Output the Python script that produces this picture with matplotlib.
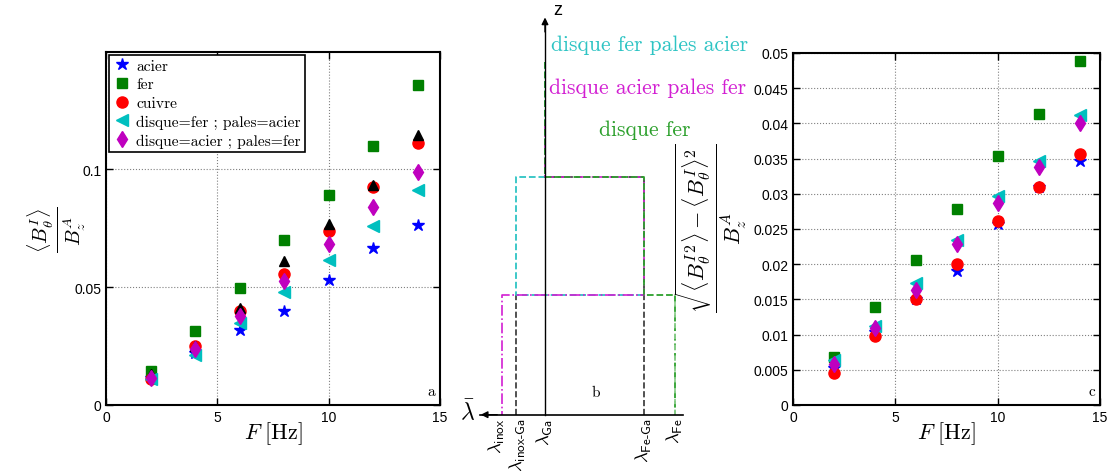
import numpy as np
import matplotlib.pyplot as plt

plt.rcParams['mathtext.fontset'] = 'cm'
plt.rcParams['font.family'] = ['Liberation Sans', 'DejaVu Sans']

F = [2, 4, 6, 8, 10, 12, 14]

# panel a : <B_theta^I> / B_z^A
a_acier = [0.0116, 0.0222, 0.0318, 0.0398, 0.0530, 0.0667, 0.0761]
a_fer = [0.0144, 0.0312, 0.0494, 0.0698, 0.0890, 0.1097, 0.1355]
a_cuivre = [0.0112, 0.0249, 0.0398, 0.0556, 0.0736, 0.0924, 0.1109]
a_noir = [0.0130, 0.0250, 0.0412, 0.0610, 0.0768, 0.0932, 0.1144]
a_fer_acier = [0.0112, 0.0212, 0.0349, 0.0479, 0.0613, 0.0758, 0.0911]
a_acier_fer = [0.0116, 0.0239, 0.0377, 0.0525, 0.0681, 0.0839, 0.0989]

# panel c : fluctuations
c_acier = [0.0052, 0.0103, 0.0150, 0.0191, 0.0257, 0.0309, 0.0347]
c_fer = [0.0068, 0.0139, 0.0206, 0.0278, 0.0353, 0.0414, 0.0488]
c_cuivre = [0.0046, 0.0098, 0.0150, 0.0200, 0.0261, 0.0309, 0.0356]
c_fer_acier = [0.0064, 0.0112, 0.0173, 0.0234, 0.0297, 0.0346, 0.0412]
c_acier_fer = [0.0058, 0.0109, 0.0164, 0.0229, 0.0287, 0.0338, 0.0400]

labels = ['acier', 'fer', 'cuivre', 'disque=fer ; pales=acier', 'disque=acier ; pales=fer']

# panel b : schematic lambda(z) profiles
lam_names = ['inox', 'inox-Ga', 'Ga', 'Fe-Ga', 'Fe']
lam_pos = [62, 76, 105, 204, 235]
z_low, z_high, z_top = 120, 238, 353

fig = plt.figure(figsize=(11.15, 4.77), dpi=100)
W, H = 1115., 477.


def style(ax):
    ax.set_xlim(0, 15)
    ax.set_xticks([0, 5, 10, 15])
    ax.tick_params(direction='in', top=True, right=True, length=5, labelsize=10, width=1)
    ax.grid(True, linestyle=':', color='gray', linewidth=0.8)
    for s in ax.spines.values():
        s.set_linewidth(1.5)
    ax.set_xlabel(r'$F\ [\mathrm{Hz}]$', fontsize=16)
    ax.xaxis.set_label_coords(0.5, -0.04)


ax1 = fig.add_axes([106 / W, 71 / H, 334 / W, 353 / H])
ax1.plot(F, a_acier, 'b*', ms=9, label=labels[0])
ax1.plot(F, a_fer, 's', color=(0, 0.5, 0), ms=7, label=labels[1])
ax1.plot(F, a_cuivre, 'ro', ms=8, label=labels[2])
ax1.plot(F, a_noir, 'k^', ms=7)
ax1.plot(F, a_fer_acier, '<', color=(0, 0.75, 0.75), ms=9, label=labels[3])
ax1.plot(F, a_acier_fer, 'd', color=(0.75, 0, 0.75), ms=8, label=labels[4])
style(ax1)
ax1.set_ylim(0, 0.1496)
ax1.set_yticks([0, 0.05, 0.1])
ax1.set_yticklabels(['0', '0.05', '0.1'])
fig.text(57 / W, 1 - 230 / H, r'$\frac{\langle B_\theta^I\rangle}{B_z^A}$', fontsize=21,
         rotation=90, ha='center', va='center')
leg = ax1.legend(loc='upper left', fancybox=False, edgecolor='black', framealpha=1,
                 prop={'family': 'cmr10', 'size': 11.2}, labelspacing=0.3, borderpad=0.25,
                 handletextpad=0.3, borderaxespad=0.2, handlelength=1.2)
leg.get_frame().set_linewidth(1.2)
ax1.text(0.985, 0.02, 'a', transform=ax1.transAxes, ha='right', va='bottom',
         family='cmr10', fontsize=11)

ax3 = fig.add_axes([793 / W, 71 / H, 307 / W, 352 / H])
ax3.plot(F, c_acier, 'b*', ms=9)
ax3.plot(F, c_fer, 's', color=(0, 0.5, 0), ms=7)
ax3.plot(F, c_cuivre, 'ro', ms=8)
ax3.plot(F, c_fer_acier, '<', color=(0, 0.75, 0.75), ms=9)
ax3.plot(F, c_acier_fer, 'd', color=(0.75, 0, 0.75), ms=8)
style(ax3)
ax3.set_ylim(0, 0.05)
ax3.set_yticks(np.arange(0, 0.0501, 0.005))
ax3.set_yticklabels(['0', '0.005', '0.01', '0.015', '0.02', '0.025', '0.03',
                     '0.035', '0.04', '0.045', '0.05'])
fig.text(711 / W, 1 - 228 / H,
         r'$\frac{\sqrt{\langle {B_\theta^I}^2\rangle - \langle B_\theta^I\rangle^2}}{B_z^A}$',
         fontsize=23, rotation=90, ha='center', va='center')
ax3.text(0.985, 0.02, 'c', transform=ax3.transAxes, ha='right', va='bottom',
         family='cmr10', fontsize=11)

# middle schematic
ax2 = fig.add_axes([440 / W, 0, 320 / W, 1])
ax2.set_xlim(0, 320)
ax2.set_ylim(-61.3, 415.7)
ax2.axis('off')
p = dict(zip(lam_names, lam_pos))
cyan, mag, green = '#2ec4c4', '#d21fd2', '#2ca02c'

ax2.plot([p['inox-Ga'], p['inox-Ga']], [0, z_low], '--', color='#333333', lw=1.2)
ax2.plot([p['Fe-Ga'], p['Fe-Ga'], p['Ga']], [0, z_high, z_high], '--', color='#333333', lw=1.2)
ax2.plot([p['Ga'], p['Ga'], p['inox-Ga'], p['inox-Ga'], p['Fe-Ga']],
         [z_top, z_high, z_high, z_low, z_low], '--', color=cyan, lw=1.3)
ax2.plot([p['Ga'], p['Ga'], p['Fe-Ga'], p['Fe-Ga'], p['inox'], p['inox']],
         [z_top - 60, z_high, z_high, z_low, z_low, 0], '-.', color=mag, lw=1.2)
ax2.plot([p['Ga'], p['Ga'], p['Fe-Ga'], p['Fe-Ga'], p['Fe'], p['Fe']],
         [z_top, z_high, z_high, z_low, z_low, 0], '--', color=green, lw=1.3)
ax2.plot([p['Fe'], p['Fe']], [0, z_low], '--', color='#8fcf8f', lw=1.3, dashes=(3, 3))

# axes arrows
ax2.plot([p['Ga'], p['Ga']], [0, 395], 'k-', lw=1)
ax2.annotate('', xy=(p['Ga'], 400), xytext=(p['Ga'], 380),
             arrowprops=dict(arrowstyle='-|>', color='k', lw=1, mutation_scale=10))
ax2.plot([40, 243], [0, 0], 'k-', lw=1.2)
ax2.annotate('', xy=(38, 0), xytext=(60, 0),
             arrowprops=dict(arrowstyle='-|>', color='k', lw=1, mutation_scale=10))
ax2.text(p['Ga'] + 13, 405, 'z', fontsize=13, ha='center', va='center')
ax2.text(28, 3, r'$\bar{\lambda}$', fontsize=17, ha='center', va='center')
for n, x in zip(lam_names, lam_pos):
    sub = r'\mathsf{' + n.replace('-', r'}\text{-}\mathsf{') + '}'
    dx = {'inox': -5, 'inox-Ga': 2}.get(n, 0)
    ax2.text(x + dx, -3, r'$\lambda_{%s}$' % sub, fontsize=13.5, rotation=90,
             ha='center', va='top')

ax2.text(210, 370, 'disque fer pales acier', color=cyan, family='cmr10', fontsize=15.5,
         ha='center', va='center')
ax2.text(208, 327, 'disque acier pales fer', color=mag, family='cmr10', fontsize=15.5,
         ha='center', va='center')
ax2.text(205, 285, 'disque fer', color=green, family='cmr10', fontsize=15.5,
         ha='center', va='center')
ax2.text(156, 23, 'b', family='cmr10', fontsize=11, ha='center', va='center')

plt.savefig('out.png', dpi=100)
